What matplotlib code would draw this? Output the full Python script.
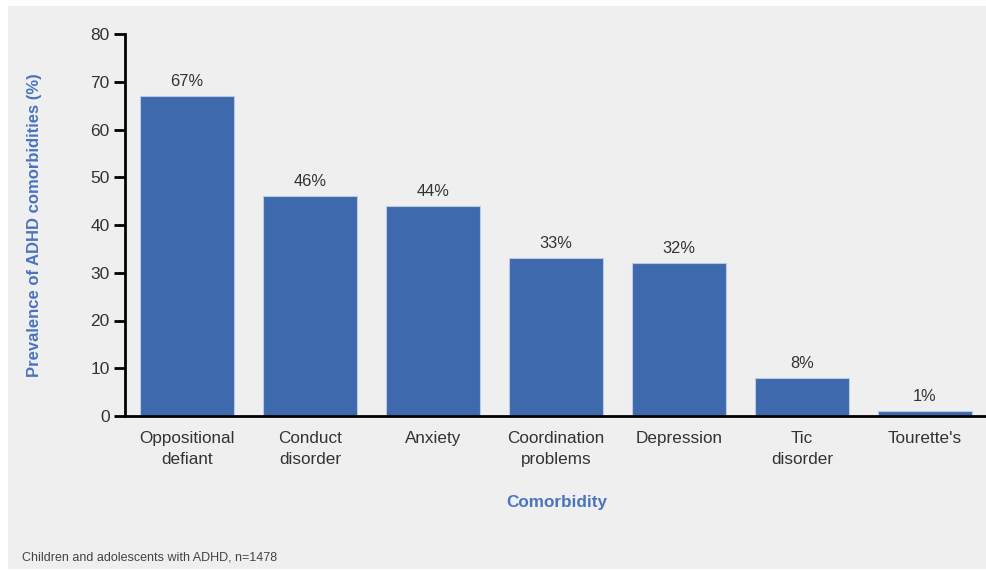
import matplotlib.pyplot as plt
from matplotlib.patches import Rectangle

categories = ['Oppositional\ndefiant', 'Conduct\ndisorder', 'Anxiety', 'Coordination\nproblems',
              'Depression', 'Tic\ndisorder', "Tourette's"]
prevalence = [67, 46, 44, 33, 32, 8, 1]
yticks = [0, 10, 20, 30, 40, 50, 60, 70, 80]

blue = '#3e69ad'
label_blue = '#4a74c0'
text_gray = '#333333'

plt.rcParams['font.family'] = ['Liberation Sans', 'DejaVu Sans']

fig = plt.figure(figsize=(9.87, 5.71), dpi=100)
fig.patches.append(Rectangle((8/987, 2/571), 1, 1 - 8/571, transform=fig.transFigure,
                             facecolor='#efefef', edgecolor='none', zorder=-10))

ax = fig.add_axes([125/987, 1 - 416/571, 1 - 125/987, (416 - 34)/571])
ax.set_facecolor('none')

x = range(len(categories))
ax.bar(x, prevalence, width=0.77, color=blue, edgecolor='#b8cbe6', linewidth=0.8, zorder=2)
for xi, v in zip(x, prevalence):
    ax.text(xi, v + 1.5, f'{v}%', ha='center', va='bottom', fontsize=11.8, color=text_gray)

ax.set_xlim(-0.504, 6.504)
ax.set_ylim(0, 80)
ax.set_yticks(yticks)
ax.set_xticks(list(x))
ax.set_xticklabels(categories, fontsize=12.3, color=text_gray, linespacing=1.45)
ax.tick_params(axis='x', length=0, pad=11)
ax.tick_params(axis='y', length=8, width=2, labelsize=12.5, labelcolor=text_gray, pad=3)

for side in ['top', 'right']:
    ax.spines[side].set_visible(False)
for side in ['left', 'bottom']:
    ax.spines[side].set_linewidth(2)
    ax.spines[side].set_color('black')

ax.set_ylabel('Prevalence of ADHD comorbidities (%)', fontsize=12, fontweight='bold', color=label_blue)
ax.yaxis.set_label_coords(-0.096, 0.5)
fig.text(557/987, 1 - 502/571, 'Comorbidity', ha='center', va='center', fontsize=12.3,
         fontweight='bold', color=label_blue)
fig.text(22/987, 1 - 557/571, 'Children and adolescents with ADHD, n=1478', ha='left', va='center',
         fontsize=9, color='#444444')

fig.savefig('out.png', dpi=100)
